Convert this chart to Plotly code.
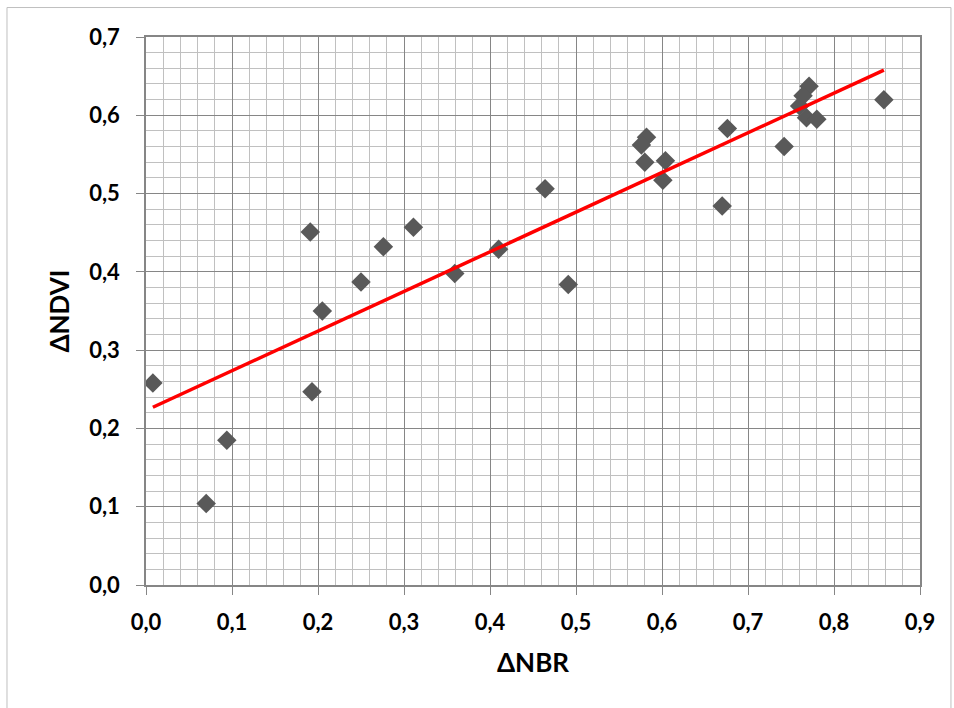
import numpy as np
import plotly.graph_objects as go

# Data
dnbr = [0.008, 0.070, 0.094, 0.191, 0.193, 0.205, 0.250, 0.276, 0.311, 0.359,
        0.410, 0.464, 0.491, 0.582, 0.576, 0.580, 0.604, 0.601, 0.670, 0.676,
        0.742, 0.771, 0.764, 0.760, 0.768, 0.780, 0.858]
dndvi = [0.258, 0.104, 0.185, 0.451, 0.247, 0.350, 0.387, 0.432, 0.457, 0.398,
         0.429, 0.506, 0.384, 0.572, 0.562, 0.540, 0.542, 0.517, 0.484, 0.583,
         0.560, 0.637, 0.625, 0.612, 0.597, 0.595, 0.620]

x_title = "ΔNBR"
y_title = "ΔNDVI"

# Linear trendline (least squares), drawn from min to max x
slope, intercept = np.polyfit(dnbr, dndvi, 1)
tx = [min(dnbr), max(dnbr)]
ty = [slope * v + intercept for v in tx]

fig = go.Figure()
fig.add_trace(go.Scatter(
    x=dnbr, y=dndvi, mode="markers",
    marker=dict(symbol="diamond", size=15, color="#595959", line=dict(width=0)),
    showlegend=False, hoverinfo="x+y"))
fig.add_trace(go.Scatter(
    x=tx, y=ty, mode="lines",
    line=dict(color="#ff0000", width=3.5),
    showlegend=False, hoverinfo="skip"))

FONT = "Lato"
tickfont = dict(family=FONT, size=22, color="black", weight="bold")
titlefont = dict(family=FONT, size=26, color="black", weight="bold")

common = dict(
    showgrid=True, gridcolor="#868686", gridwidth=1,
    showline=True, linecolor="#868686", linewidth=1.5, mirror=True,
    ticks="outside", ticklen=8, tickcolor="#868686", tickwidth=1,
    tickformat=".1f", zeroline=False, tickfont=tickfont,
)

fig.update_xaxes(
    range=[0, 0.9], dtick=0.1, tick0=0,
    minor=dict(dtick=0.02, showgrid=True, gridcolor="#c0c0c0", gridwidth=1, ticks=""),
    ticklabelstandoff=9,
    title=dict(text=x_title, font=titlefont, standoff=20),
    **common)
fig.update_yaxes(
    range=[0, 0.7], dtick=0.1, tick0=0,
    minor=dict(dtick=0.02, showgrid=True, gridcolor="#c0c0c0", gridwidth=1, ticks=""),
    ticklabelstandoff=12,
    title=dict(text=y_title, font=titlefont, standoff=12),
    **common)

fig.add_shape(type="rect", xref="paper", yref="paper",
              x0=-0.1796, x1=1.040, y0=-0.245, y1=1.0538,
              line=dict(color="#bfbfbf", width=1), layer="below")

fig.update_layout(
    width=954, height=708,
    margin=dict(l=146, r=34, t=37, b=122.5),
    paper_bgcolor="white", plot_bgcolor="white",
    separators=", ",
    font=dict(family=FONT),
)

fig.write_html("out.html")
